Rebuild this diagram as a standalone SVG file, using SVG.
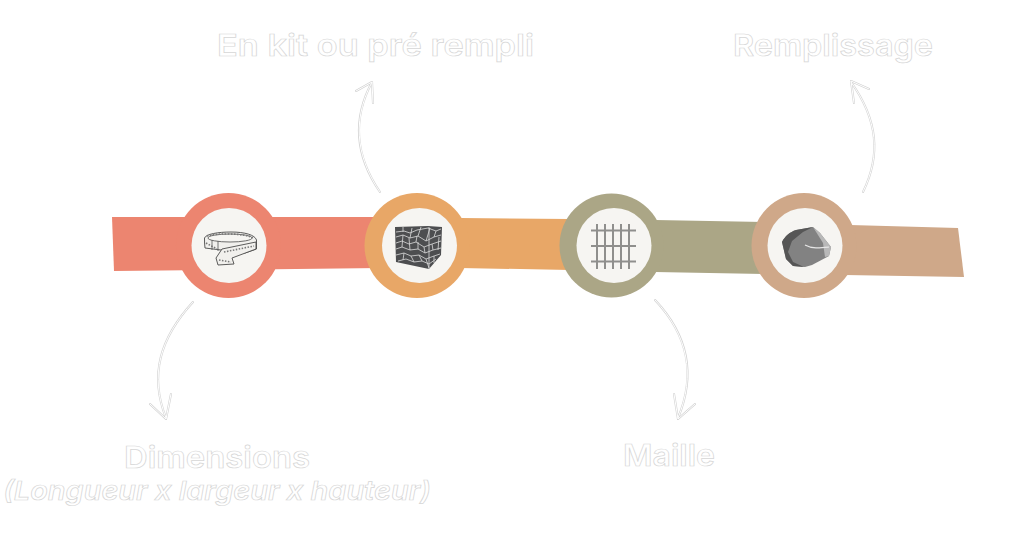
<svg xmlns="http://www.w3.org/2000/svg" width="1024" height="538" viewBox="0 0 1024 538">
<style>
.t{font-family:"Inter","Liberation Sans",sans-serif;font-weight:600;fill:#fff;stroke:#d6d6d6;stroke-width:.7}
.big{font-size:30px}
.it{font-size:26px;font-style:italic}
.a0{fill:none;stroke:#d2d2d2;stroke-width:2.1;stroke-linecap:round;stroke-linejoin:round}
.a1{fill:none;stroke:#fff;stroke-width:1;stroke-linecap:round;stroke-linejoin:round}
.inner{fill:#f6f5f2}
.g{stroke:#8f8f8d;stroke-width:2;fill:none}
.tp{fill:#f1f0ed;stroke:#4a4a4a;stroke-width:.9;stroke-linejoin:round}
.tk{stroke:#777;stroke-width:1.6;stroke-dasharray:1.5 1.5;fill:none}
.cr{fill:none;stroke:#dcdcdc;stroke-width:.8}
</style>
<defs>
<g id="aw1"><path d="M380 192C360 163 349 125 372 82M356 91L372 82L373 103"/></g>
<g id="aw2"><path d="M863 192C881 155 878 120 851 82M869 89L851 81L854 103"/></g>
<g id="aw3"><path d="M193 302C160 338 149 375 166 418M150 404L166 419L171 394"/></g>
<g id="aw4"><path d="M655 300C688 335 696 375 678 418M674 394L678 419L695 404"/></g>
</defs>
<rect width="1024" height="538" fill="#fff"/>
<g id="bands">
<path d="M112 217L380 217V268L114 271Z" fill="#ec8570"/>
<path d="M460 218L570 219V270L460 268Z" fill="#e8a767"/>
<path d="M655 220L765 222V274L655 272Z" fill="#aba686"/>
<path d="M850 225L958 228L964 277L845 275Z" fill="#cfa889"/>
</g>
<g id="connectors">
<use href="#aw1" class="a0"/><use href="#aw1" class="a1"/>
<use href="#aw2" class="a0"/><use href="#aw2" class="a1"/>
<use href="#aw3" class="a0"/><use href="#aw3" class="a1"/>
<use href="#aw4" class="a0"/><use href="#aw4" class="a1"/>
</g>
<g id="node-dimensions">
<circle cx="228.500" cy="245.500" r="52.500" fill="#ec8570"/>
<circle class="inner" cx="229" cy="245.500" r="37.500"/>
<path class="tp" d="M204.500 238C206 234 218 232 231 232C245 232 255 235 256.500 240V249L245 253L205 248C204.500 245 204.500 241 204.500 238Z"/>
<ellipse cx="230" cy="238" rx="22" ry="4" fill="#f6f5f2" stroke="#4a4a4a" stroke-width=".8"/>
<path class="tk" d="M207 236C215 233 245 233 253 238"/>
<path class="tp" d="M222 249L256 242V249L232 258L234 264L218 265L216 258Z"/>
<path class="tk" d="M206 243L217 249M224 252L254 246M219 260L231 262"/>
<path d="M212 240V250M218 241V251" stroke="#555" stroke-width=".8" fill="none"/>
</g>
<g id="node-cube">
<circle cx="417" cy="245.500" r="52.500" fill="#e8a767"/>
<circle class="inner" cx="419.500" cy="245.500" r="37.500"/>
<path d="M395 227L428 226L442 227L441 255L429 269L396 262Z" fill="#4d4e50"/>
<path class="cr" d="M396 232L404 231L410 233L417 230L428 228L436 231L441 229M396 237L403 235L410 238L418 236L426 241L434 237L441 235M396 243L402 241L409 244L416 242L424 247L432 244L441 241M396 249L402 247L410 250L418 249L425 253L433 250L441 248M396 255L404 253L411 256L419 255L426 259L434 256L440 254M398 261L406 259L414 262L422 261L429 264L436 259"/>
<path class="cr" d="M403 227V232M412 228L410 238M421 227L418 236M430 228L426 241M436 231L434 237M403 235L402 247M409 238L410 250M417 236L416 242M424 247L425 253M432 244L433 250M404 253L403 260M411 256L414 262M419 255L422 261M426 259L429 268M434 256L434 263M429 227V269M439 237L438 250M418 242L418 249"/>
</g>
<g id="node-mesh">
<circle cx="611.500" cy="245.500" r="52" fill="#aba686"/>
<circle class="inner" cx="614" cy="245.500" r="37.500"/>
<path class="g" d="M597 224V269M605 224V269M613 224V269M621 224V269M629 224V269M591 230.500H636M591 246H636M591 261.500H636"/>
</g>
<g id="node-stone">
<circle cx="804" cy="245.500" r="52.500" fill="#cfa889"/>
<circle class="inner" cx="805" cy="245.500" r="37.500"/>
<path d="M782 242C785 236 790 232 796 230L813 227L820 233L831 247L829 256L812 265L805 267L793 266L786 259Z" fill="#828282"/>
<path d="M782 242C785 236 790 232 796 230L813 227L803 232L792 241L788 252L793 262L804 267L793 266L786 259Z" fill="#565656"/>
<path d="M813 227L820 233L831 247L829 256L825 257L823 243Z" fill="#b8b8b8"/>
<path d="M805 245C812 249 820 248 829 247" stroke="#e6e6e6" stroke-width="1.200" fill="none"/>
</g>
<g id="labels">
<text class="t big" x="217" y="56" textLength="317" lengthAdjust="spacingAndGlyphs">En kit ou pré rempli</text>
<text class="t big" x="733" y="56" textLength="200" lengthAdjust="spacingAndGlyphs">Remplissage</text>
<text class="t big" x="124" y="468" textLength="186" lengthAdjust="spacingAndGlyphs">Dimensions</text>
<text class="t it" x="3" y="500" textLength="428" lengthAdjust="spacingAndGlyphs">(Longueur x largeur x hauteur)</text>
<text class="t big" x="623" y="466" textLength="92" lengthAdjust="spacingAndGlyphs">Maille</text>
</g>
</svg>
